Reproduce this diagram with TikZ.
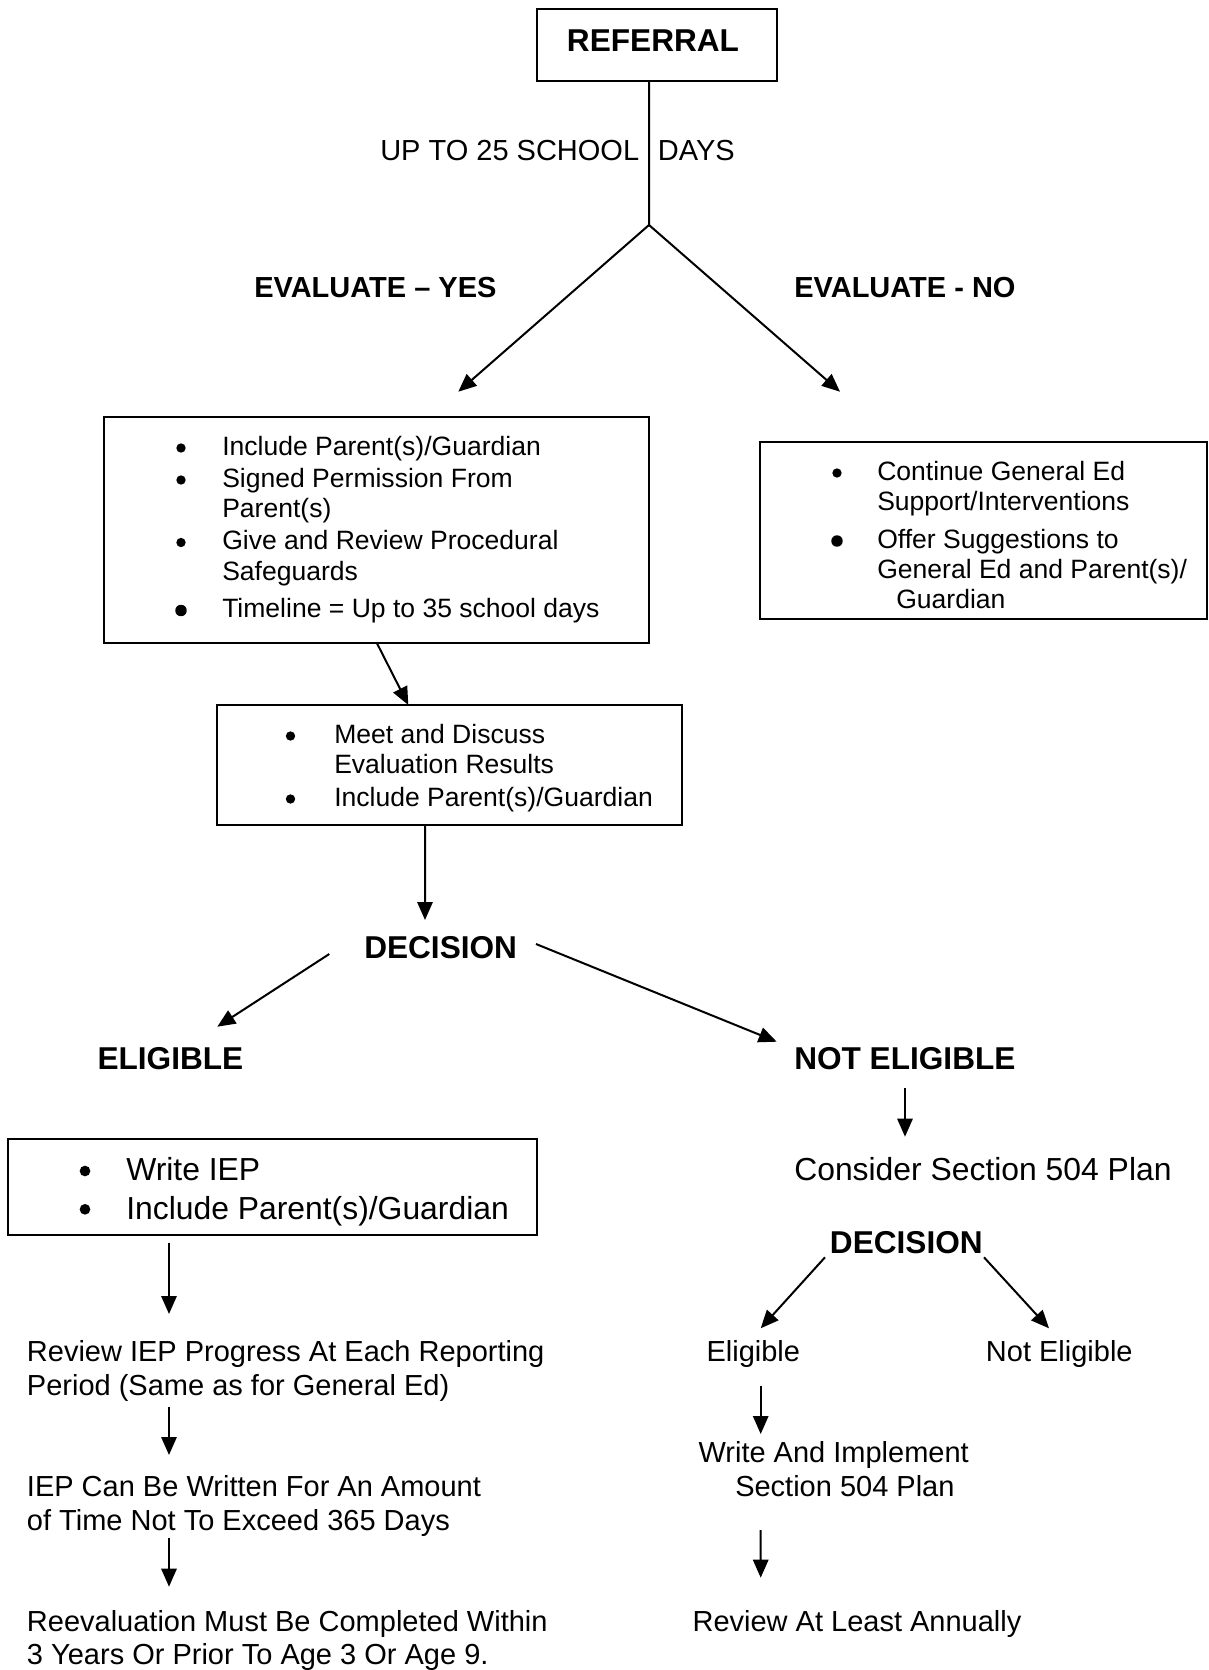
\documentclass[tikz,border=0pt]{standalone}
\usepackage{fontspec}
\setmainfont{Liberation Sans}
\usetikzlibrary{calc,arrows.meta}
\newcommand{\mybul}[3]{\fill (#1,#2) circle[radius=#3pt];}
\begin{document}
\begin{tikzpicture}[x=0.75pt,y=-0.75pt,
  lw/.style={line width=1.5pt},
  arr/.style={line width=1.5pt,-{Triangle[length=13.5pt,width=11.5pt]}},
  boxn/.style={draw,line width=1.6pt,inner sep=0,outer sep=0,anchor=north west},
  tx/.style={inner sep=0,anchor=base west,font=\fontsize{21.75pt}{26pt}\selectfont},
  tb/.style={inner sep=0,anchor=base west,font=\fontsize{19.9pt}{23pt}\selectfont},
  tl/.style={inner sep=0,anchor=base west,font=\fontsize{23.9pt}{28pt}\selectfont},
  hb/.style={inner sep=0,anchor=base west,font=\fontsize{23.7pt}{28pt}\selectfont\bfseries},
  hm/.style={inner sep=0,anchor=base west,font=\fontsize{21.75pt}{26pt}\selectfont\bfseries}]
\fill[white] (0,0) rectangle (1209,1670);
\useasboundingbox (0,0) rectangle (1209,1670);

% top
\node[boxn,minimum width=180pt,minimum height=54pt] (ref) at (536.7,9) {};
\node[hb] (reftxt) at (566.7,51.7) {REFERRAL};
\coordinate (split) at (649,225);
\node[tx] (days) at (380,160) {UP TO 25 SCHOOL\hspace{14.1pt}DAYS};
\node[hm] (evyes) at (254,297) {EVALUATE – YES};
\node[hm] (evno) at (794,297) {EVALUATE - NO};
\draw[lw] ($(ref.south west)+(112.3,0)$) -- (split);

% box 1
\node[boxn,minimum width=408.5pt,minimum height=169.3pt] (box1) at (104.3,417) {};
\node[tb] (b1a) at (222,455) {Include Parent(s)/Guardian};
\node[tb] (b1b) at (222,487) {Signed Permission From};
\node[tb] (b1c) at (222,517.5) {Parent(s)};
\node[tb] (b1d) at (222,549.5) {Give and Review Procedural};
\node[tb] (b1e) at (222,580.5) {Safeguards};
\node[tb] (b1f) at (222,617.5) {Timeline = Up to 35 school days};
\mybul{181}{448}{3.5}
\mybul{181}{480}{3.5}
\mybul{181}{542.5}{3.5}
\mybul{181}{610.5}{4.3}

% box 3 (right)
\node[boxn,minimum width=335.25pt,minimum height=132.75pt] (box3) at (760,442) {};
\node[tb] (b3a) at (877,480) {Continue General Ed};
\node[tb] (b3b) at (877,510) {Support/Interventions};
\node[tb] (b3c) at (877,548) {Offer Suggestions to};
\node[tb] (b3d) at (877,578) {General Ed and Parent(s)/};
\node[tb] (b3e) at (896,608) {Guardian};
\mybul{837}{473}{3.5}
\mybul{837}{541}{4.3}

\draw[arr] (split) -- ($(box1.north west)+(354,-25.3)$);
\draw[arr] (split) -- ($(box3.north west)+(80,-50.3)$);

% box 2
\node[boxn,minimum width=348.75pt,minimum height=90pt] (box2) at (216.7,705) {};
\node[tb] (b2a) at (334,743) {Meet and Discuss};
\node[tb] (b2b) at (334,773) {Evaluation Results};
\node[tb] (b2c) at (334,806) {Include Parent(s)/Guardian};
\mybul{290.5}{736}{3.5}
\mybul{290.5}{799}{3.5}
\draw[arr] ($(box1.south west)+(272.4,0)$) -- ($(box2.north west)+(191.6,0)$);

% decision 1
\node[hb] (dec1) at (364,958.3) {DECISION};
\draw[arr] ($(box2.south west)+(208.3,0)$) -- ($(dec1.base west)+(61,-38.3)$);
\node[hb] (elig) at (97.3,1069.3) {ELIGIBLE};
\node[hb] (notelig) at (794,1069.3) {NOT ELIGIBLE};
\draw[arr] ($(dec1.base west)+(-34.7,-4.3)$) -- ($(elig.base west)+(120,-42.6)$);
\draw[arr] ($(dec1.base west)+(172,-14.3)$) -- ($(notelig.base west)+(-17.3,-27.6)$);
\node[tl] (consider) at (794,1180) {Consider Section 504 Plan};
\draw[arr] ($(notelig.base west)+(111,19)$) -- ($(consider.base west)+(111,-43.3)$);

% left column
\node[boxn,minimum width=396.3pt,minimum height=72pt] (box4) at (8.3,1139) {};
\node[tl] (b4a) at (126,1180.7) {Write IEP};
\node[tl] (b4b) at (126,1219) {Include Parent(s)/Guardian};
\mybul{85}{1171}{4}
\mybul{85}{1209.3}{4}
\node[tx] (rev1) at (26.7,1361.7) {Review IEP Progress At Each Reporting};
\node[tx] (rev2) at (26.7,1395) {Period (Same as for General Ed)};
\node[tx] (iep1) at (26.7,1496.7) {IEP Can Be Written For An Amount};
\node[tx] (iep2) at (26.7,1530) {of Time Not To Exceed 365 Days};
\node[tx] (reev1) at (26.7,1631.7) {Reevaluation Must Be Completed Within};
\node[tx] (reev2) at (26.7,1664) {3 Years Or Prior To Age 3 Or Age 9.};
\draw[arr] ($(box4.south west)+(160.7,7.7)$) -- ($(rev1.base west)+(142.3,-47.7)$);
\draw[arr] ($(rev2.base west)+(142.3,11.7)$) -- ($(iep1.base west)+(142.3,-41.7)$);
\draw[arr] ($(iep2.base west)+(142.3,8.3)$) -- ($(reev1.base west)+(142.3,-45)$);

% right column
\node[hb] (dec2) at (829.7,1253.3) {DECISION};
\node[tx] (elig2) at (706.3,1361.7) {Eligible};
\node[tx] (notelig2) at (985.7,1361.7) {Not Eligible};
\draw[arr] ($(dec2.base west)+(-4.7,4)$) -- ($(elig2.base west)+(54.4,-33.4)$);
\draw[arr] ($(dec2.base west)+(154.3,4)$) -- ($(notelig2.base west)+(63.3,-33.4)$);
\node[tx] (w504a) at (698.3,1462.7) {Write And Implement};
\node[tx] (w504b) at (735,1496.7) {Section 504 Plan};
\draw[arr] ($(elig2.base west)+(54.4,24.3)$) -- ($(w504a.base west)+(62.4,-28.7)$);
\node[tx] (annual) at (692.3,1631.7) {Review At Least Annually};
\draw[arr] ($(w504b.base west)+(25.7,33.3)$) -- ($(annual.base west)+(68.4,-54)$);
\end{tikzpicture}
\end{document}
